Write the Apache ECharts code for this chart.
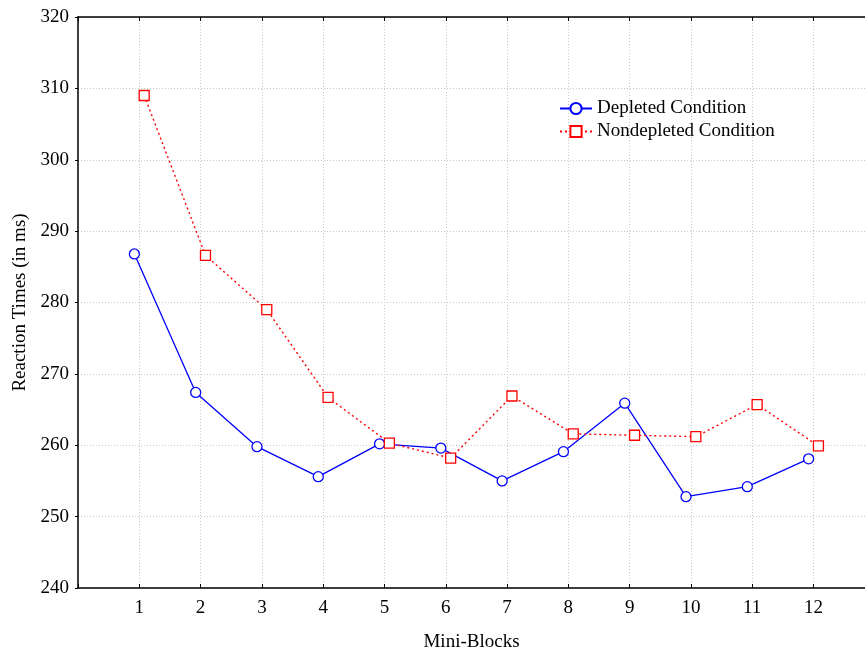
<!DOCTYPE html>
<html>
<head>
<meta charset="utf-8">
<script src="https://cdn.jsdelivr.net/npm/echarts@6/dist/echarts.min.js"></script>
<style>
  html, body { margin: 0; padding: 0; background: #fff; }
  #chart { width: 865px; height: 654px; }
</style>
</head>
<body>
<div id="chart"></div>
<script>
const blocks = [1, 2, 3, 4, 5, 6, 7, 8, 9, 10, 11, 12]
const depleted = [286.8, 267.4, 259.8, 255.6, 260.2, 259.6, 255.0, 259.1, 265.9, 252.8, 254.2, 258.1]
const nondepleted = [309.0, 286.6, 279.0, 266.7, 260.3, 258.2, 266.9, 261.6, 261.4, 261.2, 265.7, 259.9]

const font = 'Liberation Serif'
const fs = 19
const shift = 0.08  // the two series sit a little left / right of each tick

const pairs = (vals, dx) => blocks.map((b, i) => [b + dx, vals[i]])

const chart = echarts.init(document.getElementById('chart'))

const gridLine = { show: true, lineStyle: { color: '#c8c8c8', type: [1, 2], width: 1 } }

chart.setOption({
  animation: false,
  textStyle: { fontFamily: font },
  grid: { left: 78, top: 17, right: 0, bottom: 66, outerBoundsMode: 'none' },
  legend: {
    orient: 'vertical',
    left: 554,
    top: 94,
    itemWidth: 32,
    itemHeight: 14,
    itemGap: 4,
    textStyle: { fontFamily: font, fontSize: fs, color: '#000' },
    data: ['Depleted Condition', 'Nondepleted Condition']
  },
  xAxis: [{
    type: 'value',
    min: 0,
    max: 12.84,
    interval: 1,
    name: 'Mini-Blocks',
    nameLocation: 'middle',
    nameGap: 45,
    nameTextStyle: { fontFamily: font, fontSize: fs, color: '#000' },
    axisLine: { lineStyle: { color: '#000', width: 1.5 } },
    axisTick: { inside: true, length: 4, lineStyle: { color: '#000' } },
    axisLabel: {
      fontFamily: font, fontSize: fs, color: '#000', margin: 11,
      formatter: v => (v >= 1 && v <= 12 ? String(v) : '')
    },
    splitLine: gridLine
  }, {
    type: 'value',
    position: 'top',
    min: 0,
    max: 12.84,
    interval: 1,
    axisLine: { lineStyle: { color: '#000', width: 1.5 } },
    axisTick: { inside: true, length: 4, lineStyle: { color: '#000' } },
    axisLabel: { show: false },
    splitLine: { show: false }
  }],
  yAxis: {
    type: 'value',
    min: 240,
    max: 320,
    interval: 10,
    name: 'Reaction Times (in ms)',
    nameLocation: 'middle',
    nameGap: 48,
    nameTextStyle: { fontFamily: font, fontSize: fs, color: '#000' },
    axisLine: { show: true, lineStyle: { color: '#000', width: 1.5 } },
    axisTick: { show: true, length: 3, lineStyle: { color: '#000' } },
    axisLabel: { fontFamily: font, fontSize: fs, color: '#000', margin: 9 },
    splitLine: gridLine
  },
  series: [{
    name: 'Depleted Condition',
    type: 'line',
    data: pairs(depleted, -shift),
    symbol: 'circle',
    symbolSize: 10,
    lineStyle: { color: '#0000ff', width: 1.3 },
    itemStyle: { color: '#fff', borderColor: '#0000ff', borderWidth: 1.3 }
  }, {
    name: 'Nondepleted Condition',
    type: 'line',
    data: pairs(nondepleted, shift),
    symbol: 'rect',
    symbolSize: 10,
    lineStyle: { color: '#ff0000', width: 1.4, type: [2, 3] },
    itemStyle: { color: '#fff', borderColor: '#ff0000', borderWidth: 1.3 }
  }]
})
</script>
</body>
</html>
